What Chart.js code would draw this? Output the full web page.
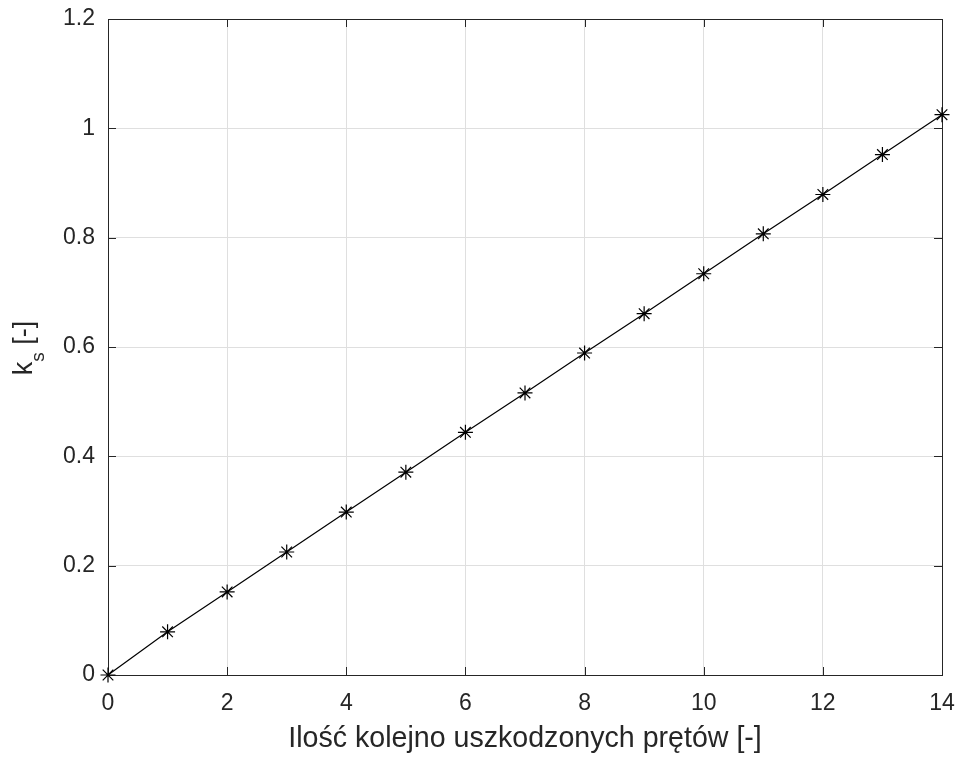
<!DOCTYPE html>
<html>
<head>
<meta charset="utf-8">
<script src="https://cdn.jsdelivr.net/npm/chart.js@4/dist/chart.umd.min.js"></script>
<style>
  html, body { margin: 0; padding: 0; background: #fff; }
  #wrap { width: 959px; height: 760px; }
</style>
</head>
<body>
<div id="wrap"><canvas id="ks"></canvas></div>
<script>
// number of consecutively damaged bars and the resulting k_s coefficient
const damagedBars = [0, 1, 2, 3, 4, 5, 6, 7, 8, 9, 10, 11, 12, 13, 14];
const ksValues = [0, 0.079, 0.152, 0.225, 0.298, 0.371, 0.444, 0.516, 0.589, 0.661, 0.734, 0.807, 0.879, 0.952, 1.025];

const xTicks = [0, 2, 4, 6, 8, 10, 12, 14];
const yTicks = [0, 0.2, 0.4, 0.6, 0.8, 1, 1.2];

const xTitle = 'Ilość kolejno uszkodzonych prętów [-]';

const axisColor = '#262626';
const fontFamily = '"Liberation Sans", Arial, Helvetica, sans-serif';

// box around the plot area with inward ticks on all four sides
const axesBox = {
    id: 'axesBox',
    beforeDatasetsDraw(chart) {
        const { ctx, chartArea: a, scales } = chart;
        const len = 8;
        ctx.save();
        ctx.strokeStyle = axisColor;
        ctx.lineWidth = 1;
        ctx.beginPath();
        xTicks.forEach(v => {
            const px = Math.round(scales.x.getPixelForValue(v)) + 0.5;
            ctx.moveTo(px, a.bottom); ctx.lineTo(px, a.bottom - len);
            ctx.moveTo(px, a.top); ctx.lineTo(px, a.top + len);
        });
        yTicks.forEach(v => {
            const py = Math.round(scales.y.getPixelForValue(v)) + 0.5;
            ctx.moveTo(a.left, py); ctx.lineTo(a.left + len, py);
            ctx.moveTo(a.right, py); ctx.lineTo(a.right - len, py);
        });
        ctx.stroke();
        ctx.strokeRect(Math.round(a.left) + 0.5, Math.round(a.top) + 0.5,
            Math.round(a.right - a.left), Math.round(a.bottom - a.top));
        ctx.restore();
    }
};

// y axis title with a subscript: k_s [-]
const yTitle = {
    id: 'yTitle',
    afterDraw(chart) {
        const { ctx } = chart;
        const big = '27px ' + fontFamily;
        const small = '19px ' + fontFamily;
        ctx.save();
        ctx.fillStyle = axisColor;
        ctx.textBaseline = 'alphabetic';
        ctx.font = big;
        const wK = ctx.measureText('k').width;
        const wRest = ctx.measureText(' [-]').width;
        ctx.font = small;
        const wS = ctx.measureText('s').width;
        const total = wK + wS + wRest;
        ctx.translate(32, 348);
        ctx.rotate(-Math.PI / 2);
        let x = -total / 2;
        ctx.font = big;
        ctx.fillText('k', x, 0);
        x += wK;
        ctx.font = small;
        ctx.fillText('s', x, 12);
        x += wS;
        ctx.font = big;
        ctx.fillText(' [-]', x, 0);
        ctx.restore();
    }
};

// fixed axis sizes so the plot area sits where it should
const fixLeft = s => { s.width = 108; s.paddingTop = 0; s.paddingBottom = 0; };
const fixBottom = s => { s.height = 85; s.paddingLeft = 0; s.paddingRight = 0; };

new Chart(document.getElementById('ks'), {
    type: 'line',
    data: {
        datasets: [{
            data: damagedBars.map((n, i) => ({ x: n, y: ksValues[i] })),
            borderColor: '#000',
            borderWidth: 1.2,
            backgroundColor: '#000',
            pointStyle: 'star',
            pointRadius: 7.5,
            pointBorderWidth: 1.2,
            pointBorderColor: '#000',
            tension: 0,
            clip: false
        }]
    },
    options: {
        responsive: true,
        maintainAspectRatio: false,
        animation: false,
        layout: {
            padding: { top: 19, right: 17, left: 0, bottom: 0 }
        },
        scales: {
            x: {
                type: 'linear',
                min: 0,
                max: 14,
                afterFit: fixBottom,
                afterBuildTicks: s => { s.ticks = xTicks.map(v => ({ value: v })); },
                grid: { color: '#dfdfdf', drawTicks: false },
                border: { display: false },
                ticks: {
                    color: axisColor,
                    padding: 15,
                    maxRotation: 0,
                    font: { family: fontFamily, size: 23 }
                },
                title: {
                    display: true,
                    text: xTitle,
                    color: axisColor,
                    padding: { top: 0, bottom: 4 },
                    font: { family: fontFamily, size: 28.6 }
                }
            },
            y: {
                type: 'linear',
                min: 0,
                max: 1.2,
                afterFit: fixLeft,
                afterBuildTicks: s => { s.ticks = yTicks.map(v => ({ value: v })); },
                grid: { color: '#dfdfdf', drawTicks: false },
                border: { display: false },
                ticks: {
                    color: axisColor,
                    padding: 13,
                    font: { family: fontFamily, size: 23 },
                    callback: v => String(v)
                }
            }
        },
        plugins: {
            legend: { display: false },
            tooltip: { enabled: false }
        }
    },
    plugins: [axesBox, yTitle]
});
</script>
</body>
</html>
